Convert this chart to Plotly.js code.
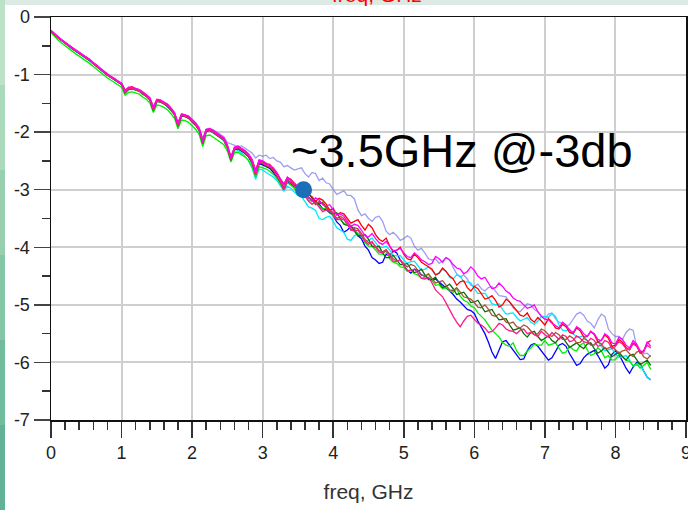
<!DOCTYPE html>
<html>
<head>
<meta charset="utf-8">
<script src="https://cdn.plot.ly/plotly-3.0.1.min.js"></script>
<style>html,body{margin:0;padding:0;background:#fff;}#chart{width:688px;height:510px;}</style>
</head>
<body>
<div id="chart"></div>
<script>
// frequency axis, GHz
const freq = [
0,0.05,0.1,0.15,0.2,0.25,0.3,0.35,0.4,0.45,
0.5,0.55,0.6,0.65,0.7,0.75,0.8,0.85,0.9,0.95,
1,1.05,1.1,1.15,1.2,1.25,1.3,1.35,1.4,1.45,
1.5,1.55,1.6,1.65,1.7,1.75,1.8,1.85,1.9,1.95,
2,2.05,2.1,2.15,2.2,2.25,2.3,2.35,2.4,2.45,
2.5,2.55,2.6,2.65,2.7,2.75,2.8,2.85,2.9,2.95,
3,3.05,3.1,3.15,3.2,3.25,3.3,3.35,3.4,3.45,
3.5,
3.55,3.6,3.65,3.7,3.75,3.8,3.85,3.9,3.95,4,
4.05,4.1,4.15,4.2,4.25,4.3,4.35,4.4,4.45,4.5,
4.55,4.6,4.65,4.7,4.75,4.8,4.85,4.9,4.95,5,
5.05,5.1,5.15,5.2,5.25,5.3,5.35,5.4,5.45,5.5,
5.55,5.6,5.65,5.7,5.75,5.8,5.85,5.9,5.95,6,
6.05,6.1,6.15,6.2,6.25,6.3,6.35,6.4,6.45,6.5,
6.55,6.6,6.65,6.7,6.75,6.8,6.85,6.9,6.95,7,
7.05,7.1,7.15,7.2,7.25,7.3,7.35,7.4,7.45,7.5,
7.55,7.6,7.65,7.7,7.75,7.8,7.85,7.9,7.95,8,
8.05,8.1,8.15,8.2,8.25,8.3,8.35,8.4,8.45,8.5];

const lossPeriwinkle = [
-0.24,-0.30,-0.35,-0.40,-0.45,-0.49,-0.54,-0.58,-0.62,-0.66,
-0.70,-0.75,-0.80,-0.85,-0.90,-0.95,-1.00,-1.04,-1.08,-1.12,
-1.16,-1.28,-1.23,-1.22,-1.24,-1.27,-1.31,-1.35,-1.41,-1.56,
-1.44,-1.45,-1.48,-1.52,-1.58,-1.66,-1.84,-1.69,-1.70,-1.73,
-1.78,-1.84,-1.92,-2.10,-1.95,-1.93,-1.96,-2.00,-2.04,-2.08,
-2.18,-2.20,-2.22,-2.25,-2.24,-2.28,-2.33,-2.36,-2.45,-2.40,
-2.42,-2.40,-2.46,-2.44,-2.50,-2.52,-2.60,-2.58,-2.62,-2.66,
-2.64,
-2.62,-2.72,-2.78,-2.70,-2.72,-2.84,-2.80,-2.88,-2.90,-3.00,
-3.08,-3.05,-3.02,-3.10,-3.10,-3.16,-3.35,-3.45,-3.42,-3.50,
-3.55,-3.48,-3.46,-3.55,-3.72,-3.78,-3.74,-3.80,-3.88,-3.85,
-3.80,-3.84,-3.98,-4.05,-4.02,-4.10,-4.20,-4.22,-4.20,-4.28,
-4.24,-4.18,-4.22,-4.35,-4.46,-4.52,-4.48,-4.55,-4.66,-4.68,
-4.64,-4.72,-4.76,-4.70,-4.68,-4.76,-4.84,-4.85,-4.86,-4.95,
-5.05,-5.10,-5.12,-5.05,-4.98,-5.00,-5.08,-5.12,-5.20,-5.25,
-5.16,-5.14,-5.24,-5.30,-5.32,-5.38,-5.34,-5.25,-5.16,-5.13,
-5.18,-5.28,-5.32,-5.40,-5.26,-5.16,-5.20,-5.42,-5.50,-5.55,
-5.55,-5.60,-5.48,-5.42,-5.44,-5.72,-5.80,-5.85,-5.84,-5.90];

const lossBlue = [
-0.25,-0.31,-0.36,-0.41,-0.45,-0.50,-0.55,-0.59,-0.63,-0.67,
-0.71,-0.76,-0.81,-0.86,-0.92,-0.96,-1.01,-1.05,-1.09,-1.13,
-1.17,-1.31,-1.25,-1.24,-1.26,-1.28,-1.33,-1.37,-1.43,-1.62,
-1.46,-1.47,-1.50,-1.55,-1.61,-1.69,-1.90,-1.72,-1.72,-1.76,
-1.82,-1.88,-1.97,-2.20,-1.99,-1.97,-2.01,-2.05,-2.09,-2.14,
-2.27,-2.50,-2.30,-2.29,-2.33,-2.37,-2.43,-2.54,-2.76,-2.55,
-2.57,-2.60,-2.63,-2.70,-2.78,-2.88,-3.02,-2.86,-2.90,-2.95,
-3.00,
-3.04,-3.05,-3.14,-3.18,-3.20,-3.25,-3.33,-3.35,-3.40,-3.45,
-3.56,-3.62,-3.74,-3.70,-3.64,-3.68,-3.80,-3.85,-3.98,-4.05,
-4.18,-4.22,-4.28,-4.26,-4.12,-4.15,-4.06,-4.10,-4.22,-4.30,
-4.40,-4.45,-4.38,-4.40,-4.48,-4.50,-4.54,-4.57,-4.55,-4.60,
-4.66,-4.70,-4.76,-4.82,-4.90,-4.95,-5.02,-5.08,-5.10,-5.15,
-5.28,-5.40,-5.50,-5.65,-5.82,-5.93,-5.80,-5.64,-5.62,-5.70,
-5.78,-5.88,-5.95,-5.94,-5.80,-5.70,-5.67,-5.72,-5.80,-5.88,
-5.96,-5.92,-5.80,-5.70,-5.67,-5.72,-5.85,-5.95,-6.05,-6.02,
-5.92,-5.86,-5.82,-5.79,-5.88,-6.00,-6.10,-6.04,-5.86,-5.80,
-5.86,-5.98,-6.10,-6.19,-6.08,-6.00,-6.02,-6.15,-6.26,-6.30];

const lossCyan = [
-0.25,-0.31,-0.36,-0.41,-0.46,-0.50,-0.55,-0.59,-0.63,-0.67,
-0.71,-0.76,-0.81,-0.86,-0.92,-0.96,-1.01,-1.05,-1.09,-1.13,
-1.17,-1.31,-1.25,-1.24,-1.26,-1.28,-1.33,-1.37,-1.43,-1.61,
-1.46,-1.47,-1.50,-1.54,-1.61,-1.69,-1.89,-1.71,-1.72,-1.75,
-1.81,-1.87,-1.96,-2.19,-1.98,-1.97,-2.01,-2.05,-2.09,-2.15,
-2.27,-2.45,-2.33,-2.32,-2.36,-2.42,-2.50,-2.62,-2.82,-2.64,
-2.66,-2.70,-2.74,-2.78,-2.84,-2.92,-3.02,-2.94,-2.98,-3.04,
-3.10,
-3.12,-3.22,-3.30,-3.32,-3.36,-3.50,-3.52,-3.48,-3.46,-3.55,
-3.66,-3.70,-3.74,-3.86,-3.88,-3.80,-3.76,-3.82,-3.90,-3.88,
-3.84,-3.92,-4.00,-4.00,-3.98,-4.05,-4.14,-4.15,-4.14,-4.22,
-4.28,-4.25,-4.24,-4.32,-4.40,-4.38,-4.34,-4.40,-4.48,-4.45,
-4.38,-4.42,-4.52,-4.55,-4.48,-4.50,-4.60,-4.60,-4.62,-4.72,
-4.80,-4.80,-4.80,-4.88,-4.98,-5.00,-4.98,-5.08,-5.16,-5.15,
-5.14,-5.22,-5.28,-5.25,-5.22,-5.30,-5.34,-5.28,-5.20,-5.20,
-5.22,-5.15,-5.20,-5.35,-5.44,-5.45,-5.42,-5.50,-5.56,-5.55,
-5.54,-5.62,-5.70,-5.68,-5.64,-5.72,-5.80,-5.78,-5.76,-5.85,
-5.92,-5.90,-5.88,-5.96,-6.06,-6.05,-6.04,-6.15,-6.26,-6.30];

const lossLime = [
-0.27,-0.34,-0.40,-0.45,-0.50,-0.55,-0.60,-0.64,-0.68,-0.72,
-0.76,-0.81,-0.86,-0.91,-0.97,-1.01,-1.06,-1.10,-1.14,-1.18,
-1.22,-1.36,-1.31,-1.30,-1.32,-1.34,-1.39,-1.43,-1.49,-1.66,
-1.53,-1.54,-1.57,-1.61,-1.68,-1.76,-1.94,-1.79,-1.80,-1.83,
-1.89,-1.95,-2.04,-2.25,-2.06,-2.05,-2.09,-2.13,-2.17,-2.22,
-2.33,-2.52,-2.36,-2.35,-2.39,-2.43,-2.49,-2.60,-2.78,-2.60,
-2.62,-2.64,-2.68,-2.73,-2.80,-2.90,-3.00,-2.88,-2.92,-2.98,
-3.06,
-3.02,-3.10,-3.18,-3.20,-3.22,-3.28,-3.34,-3.32,-3.40,-3.45,
-3.52,-3.52,-3.58,-3.62,-3.66,-3.70,-3.76,-3.80,-3.92,-3.98,
-3.98,-4.05,-4.12,-4.12,-4.06,-4.20,-4.26,-4.28,-4.34,-4.35,
-4.42,-4.40,-4.46,-4.48,-4.54,-4.52,-4.46,-4.58,-4.66,-4.65,
-4.72,-4.70,-4.76,-4.78,-4.72,-4.85,-4.92,-4.95,-5.02,-5.05,
-5.14,-5.20,-5.26,-5.35,-5.44,-5.50,-5.56,-5.65,-5.70,-5.72,
-5.66,-5.80,-5.88,-5.88,-5.80,-5.75,-5.68,-5.70,-5.70,-5.62,
-5.70,-5.68,-5.66,-5.75,-5.84,-5.82,-5.72,-5.78,-5.80,-5.70,
-5.66,-5.78,-5.88,-5.85,-5.74,-5.80,-5.92,-5.88,-5.96,-5.95,
-5.86,-5.90,-5.96,-5.98,-6.06,-6.02,-6.10,-6.05,-6.00,-6.12];

const lossDarkGreen = [
-0.25,-0.31,-0.36,-0.41,-0.46,-0.50,-0.55,-0.59,-0.63,-0.67,
-0.71,-0.76,-0.81,-0.86,-0.92,-0.96,-1.01,-1.05,-1.09,-1.13,
-1.17,-1.32,-1.26,-1.25,-1.27,-1.29,-1.34,-1.38,-1.44,-1.62,
-1.47,-1.48,-1.51,-1.55,-1.62,-1.70,-1.90,-1.72,-1.73,-1.76,
-1.82,-1.88,-1.97,-2.20,-1.99,-1.97,-2.01,-2.05,-2.09,-2.14,
-2.27,-2.49,-2.30,-2.28,-2.32,-2.36,-2.42,-2.53,-2.74,-2.53,
-2.55,-2.59,-2.61,-2.67,-2.76,-2.86,-2.99,-2.83,-2.87,-2.93,
-2.99,
-3.00,-3.08,-3.06,-3.16,-3.24,-3.25,-3.22,-3.30,-3.40,-3.42,
-3.40,-3.50,-3.60,-3.62,-3.62,-3.72,-3.80,-3.80,-3.78,-3.86,
-3.98,-4.00,-3.98,-4.10,-4.18,-4.18,-4.14,-4.22,-4.30,-4.30,
-4.28,-4.38,-4.44,-4.42,-4.38,-4.48,-4.56,-4.56,-4.52,-4.62,
-4.70,-4.68,-4.64,-4.72,-4.82,-4.80,-4.78,-4.86,-4.96,-4.95,
-4.92,-5.02,-5.12,-5.10,-5.08,-5.18,-5.26,-5.25,-5.24,-5.35,
-5.44,-5.42,-5.40,-5.50,-5.56,-5.48,-5.46,-5.55,-5.62,-5.58,
-5.54,-5.62,-5.66,-5.58,-5.56,-5.65,-5.74,-5.70,-5.66,-5.72,
-5.76,-5.68,-5.66,-5.76,-5.84,-5.80,-5.74,-5.82,-5.90,-5.86,
-5.82,-5.90,-5.96,-5.88,-5.86,-5.95,-6.04,-6.00,-5.96,-6.05];

const lossSienna = [
-0.24,-0.30,-0.36,-0.40,-0.45,-0.50,-0.54,-0.59,-0.62,-0.67,
-0.70,-0.75,-0.80,-0.85,-0.91,-0.95,-1.00,-1.05,-1.08,-1.13,
-1.16,-1.29,-1.24,-1.23,-1.26,-1.27,-1.32,-1.36,-1.42,-1.59,
-1.45,-1.46,-1.50,-1.53,-1.60,-1.68,-1.87,-1.70,-1.72,-1.74,
-1.80,-1.86,-1.95,-2.17,-1.97,-1.95,-1.99,-2.03,-2.07,-2.12,
-2.25,-2.46,-2.28,-2.26,-2.31,-2.34,-2.40,-2.50,-2.71,-2.51,
-2.52,-2.56,-2.58,-2.65,-2.72,-2.82,-2.96,-2.81,-2.84,-2.91,
-2.97,
-3.04,-3.06,-3.14,-3.18,-3.26,-3.20,-3.24,-3.32,-3.34,-3.40,
-3.50,-3.46,-3.50,-3.58,-3.70,-3.66,-3.68,-3.76,-3.86,-3.92,
-3.92,-3.98,-4.06,-4.08,-4.04,-4.12,-4.20,-4.24,-4.22,-4.28,
-4.34,-4.30,-4.32,-4.40,-4.48,-4.50,-4.46,-4.54,-4.62,-4.60,
-4.58,-4.66,-4.74,-4.75,-4.70,-4.78,-4.86,-4.88,-4.90,-4.96,
-5.04,-5.05,-5.00,-5.08,-5.18,-5.20,-5.16,-5.22,-5.30,-5.32,
-5.30,-5.38,-5.40,-5.35,-5.38,-5.45,-5.52,-5.50,-5.42,-5.45,
-5.52,-5.55,-5.48,-5.52,-5.60,-5.60,-5.54,-5.58,-5.66,-5.65,
-5.58,-5.62,-5.70,-5.70,-5.64,-5.68,-5.76,-5.75,-5.72,-5.78,
-5.84,-5.80,-5.78,-5.85,-5.90,-5.82,-5.80,-5.90,-5.94,-5.88];

const lossRed = [
-0.24,-0.30,-0.35,-0.40,-0.44,-0.49,-0.53,-0.58,-0.62,-0.66,
-0.70,-0.74,-0.80,-0.84,-0.90,-0.95,-0.99,-1.04,-1.07,-1.12,
-1.15,-1.27,-1.23,-1.21,-1.25,-1.26,-1.31,-1.35,-1.41,-1.56,
-1.44,-1.45,-1.49,-1.52,-1.59,-1.67,-1.84,-1.69,-1.71,-1.73,
-1.79,-1.85,-1.94,-2.14,-1.96,-1.95,-1.98,-2.02,-2.06,-2.11,
-2.23,-2.43,-2.27,-2.24,-2.29,-2.33,-2.39,-2.48,-2.66,-2.49,
-2.51,-2.55,-2.56,-2.63,-2.71,-2.81,-2.90,-2.79,-2.82,-2.89,
-2.97,
-3.06,-3.00,-3.08,-3.12,-3.20,-3.15,-3.18,-3.25,-3.36,-3.32,
-3.44,-3.40,-3.42,-3.50,-3.58,-3.55,-3.52,-3.62,-3.70,-3.60,
-3.66,-3.78,-3.86,-3.90,-3.84,-3.98,-4.08,-4.05,-4.00,-4.12,
-4.20,-4.22,-4.12,-4.18,-4.26,-4.30,-4.34,-4.38,-4.48,-4.45,
-4.36,-4.42,-4.50,-4.55,-4.66,-4.60,-4.58,-4.70,-4.76,-4.68,
-4.72,-4.80,-4.90,-4.88,-4.84,-4.92,-5.04,-5.00,-4.90,-4.95,
-5.02,-5.10,-5.18,-5.20,-5.14,-5.25,-5.30,-5.22,-5.28,-5.35,
-5.24,-5.30,-5.40,-5.42,-5.34,-5.38,-5.48,-5.50,-5.40,-5.45,
-5.56,-5.55,-5.46,-5.52,-5.64,-5.62,-5.52,-5.58,-5.72,-5.70,
-5.60,-5.65,-5.74,-5.78,-5.66,-5.70,-5.84,-5.80,-5.66,-5.62];

const lossDeepPink = [
-0.24,-0.31,-0.36,-0.40,-0.45,-0.50,-0.54,-0.59,-0.63,-0.67,
-0.71,-0.75,-0.81,-0.85,-0.91,-0.96,-1.00,-1.05,-1.08,-1.13,
-1.17,-1.31,-1.25,-1.24,-1.26,-1.28,-1.33,-1.37,-1.43,-1.61,
-1.46,-1.47,-1.50,-1.54,-1.61,-1.69,-1.89,-1.71,-1.72,-1.75,
-1.81,-1.87,-1.96,-2.19,-1.98,-1.96,-2.00,-2.04,-2.08,-2.13,
-2.26,-2.48,-2.29,-2.27,-2.31,-2.35,-2.41,-2.52,-2.74,-2.52,
-2.54,-2.58,-2.60,-2.66,-2.75,-2.86,-3.00,-2.84,-2.88,-2.94,
-3.00,
-3.02,-3.10,-3.20,-3.25,-3.22,-3.30,-3.38,-3.35,-3.36,-3.42,
-3.52,-3.50,-3.52,-3.60,-3.70,-3.72,-3.70,-3.80,-3.90,-3.95,
-3.90,-4.00,-4.08,-4.10,-4.06,-4.15,-4.24,-4.25,-4.22,-4.32,
-4.40,-4.40,-4.38,-4.45,-4.54,-4.55,-4.52,-4.62,-4.74,-4.80,
-4.86,-4.97,-5.10,-5.20,-5.30,-5.38,-5.28,-5.20,-5.18,-5.25,
-5.32,-5.35,-5.40,-5.48,-5.46,-5.40,-5.32,-5.35,-5.42,-5.45,
-5.46,-5.50,-5.44,-5.42,-5.50,-5.48,-5.52,-5.55,-5.46,-5.52,
-5.56,-5.48,-5.54,-5.60,-5.52,-5.55,-5.64,-5.62,-5.54,-5.58,
-5.64,-5.66,-5.58,-5.62,-5.72,-5.70,-5.62,-5.65,-5.76,-5.72,
-5.64,-5.68,-5.76,-5.78,-5.68,-5.72,-5.82,-5.80,-5.70,-5.75];

const lossMagenta = [
-0.23,-0.29,-0.34,-0.39,-0.44,-0.48,-0.53,-0.57,-0.61,-0.65,
-0.69,-0.74,-0.79,-0.84,-0.90,-0.94,-0.99,-1.03,-1.07,-1.11,
-1.15,-1.28,-1.22,-1.22,-1.24,-1.26,-1.30,-1.35,-1.40,-1.57,
-1.43,-1.44,-1.48,-1.51,-1.58,-1.66,-1.85,-1.68,-1.70,-1.72,
-1.78,-1.84,-1.93,-2.15,-1.95,-1.94,-1.97,-2.01,-2.05,-2.10,
-2.22,-2.44,-2.26,-2.25,-2.28,-2.32,-2.38,-2.47,-2.68,-2.48,
-2.50,-2.54,-2.57,-2.62,-2.70,-2.80,-2.92,-2.78,-2.83,-2.88,
-2.94,
-2.96,-3.02,-3.12,-3.20,-3.14,-3.18,-3.26,-3.28,-3.26,-3.35,
-3.44,-3.42,-3.46,-3.55,-3.64,-3.60,-3.62,-3.70,-3.80,-3.82,
-3.76,-3.85,-3.92,-3.95,-3.90,-3.98,-4.06,-4.05,-4.02,-4.10,
-4.16,-4.18,-4.10,-4.15,-4.22,-4.25,-4.30,-4.28,-4.16,-4.20,
-4.26,-4.18,-4.22,-4.30,-4.36,-4.38,-4.46,-4.42,-4.34,-4.40,
-4.50,-4.55,-4.52,-4.62,-4.72,-4.70,-4.62,-4.68,-4.76,-4.80,
-4.88,-4.92,-4.94,-5.00,-5.06,-5.04,-5.00,-5.12,-5.20,-5.25,
-5.26,-5.32,-5.36,-5.40,-5.30,-5.35,-5.44,-5.48,-5.38,-5.42,
-5.50,-5.55,-5.46,-5.50,-5.60,-5.62,-5.50,-5.55,-5.66,-5.68,
-5.56,-5.60,-5.70,-5.75,-5.62,-5.68,-5.80,-5.82,-5.64,-5.72];

// marked -3 dB point
const markFreq = [3.58];
const markLoss = [-3.0];

const xTickVals = [0,1,2,3,4,5,6,7,8,9];
const yTickVals = [0,-1,-2,-3,-4,-5,-6,-7];
const noteText = "~3.5GHz @-3db";
const xTitleText = "freq, GHz";

const seriesList = [
  {y: lossPeriwinkle, color: 'rgba(105,105,235,0.65)'},
  {y: lossBlue, color: '#0000ff'},
  {y: lossCyan, color: '#00e8ff'},
  {y: lossLime, color: '#00ee00'},
  {y: lossDarkGreen, color: '#0b6b0b'},
  {y: lossSienna, color: '#a5553a'},
  {y: lossRed, color: '#ff0000'},
  {y: lossDeepPink, color: '#ff1a8c'},
  {y: lossMagenta, color: '#ff00ff'}
];

const traces = seriesList.map(s => ({
  x: freq, y: s.y, type: 'scatter', mode: 'lines',
  line: {color: s.color, width: 1.3}, hoverinfo: 'skip'
}));
traces.push({
  x: markFreq, y: markLoss, type: 'scatter', mode: 'markers',
  marker: {color: '#1a6fb6', size: 17, line: {width: 0}}, hoverinfo: 'skip'
});

const W = 688, H = 510, ML = 51, MR = 2, MT = 17, MB = 90;
const PW = W - ML - MR, PH = H - MT - MB;
const px = v => (v - ML) / PW;
const py = v => (H - MB - v) / PH;

const stripColors = ['#bce2c8','#aad9bc','#97cfb0','#84c6a6','#72bc9e','#62b297'];
const shapes = [];
stripColors.forEach((c, i) => {
  const y0 = i * H / stripColors.length, y1 = (i + 1) * H / stripColors.length;
  shapes.push({type: 'rect', xref: 'paper', yref: 'paper', layer: 'below',
    x0: px(0), x1: px(5), y0: py(y1), y1: py(y0), fillcolor: c, line: {width: 0}});
});
shapes.push({type: 'rect', xref: 'paper', yref: 'paper', layer: 'below',
  x0: px(5), x1: px(W), y0: py(5), y1: py(0), fillcolor: '#dde9e3', line: {width: 0}});

const fontFam = '"Liberation Sans", Arial, sans-serif';

const layout = {
  width: W, height: H,
  margin: {l: ML, r: MR, t: MT, b: MB, pad: 0},
  paper_bgcolor: '#ffffff', plot_bgcolor: '#ffffff',
  showlegend: false,
  font: {family: fontFam, color: '#222', size: 15},
  xaxis: {
    range: [0, 9], tickvals: xTickVals, ticktext: xTickVals.map(String),
    ticks: 'outside', ticklen: 16, tickwidth: 1.5, tickcolor: '#333',
    showline: true, linecolor: '#111', linewidth: 1.5, mirror: true,
    showgrid: true, gridcolor: '#cfcfcf', gridwidth: 2, zeroline: false,
    ticklabeloverflow: 'allow',
    tickfont: {family: fontFam, size: 18, color: '#222'},
    minor: {dtick: 0.2, tick0: 0, ticks: 'outside', ticklen: 8, tickwidth: 1.5, tickcolor: '#333', showgrid: false},
    title: {text: xTitleText, font: {family: fontFam, size: 21, color: '#333'}, standoff: 22},
    fixedrange: true
  },
  yaxis: {
    range: [-7, 0], tickvals: yTickVals, ticktext: yTickVals.map(String),
    ticks: 'outside', ticklen: 16, tickwidth: 1.5, tickcolor: '#444',
    showline: true, linecolor: '#111', linewidth: 1.5, mirror: true,
    showgrid: true, gridcolor: '#cfcfcf', gridwidth: 2, zeroline: false,
    ticklabeloverflow: 'allow',
    tickfont: {family: fontFam, size: 18, color: '#222'},
    minor: {dtick: 0.5, tick0: 0, ticks: 'outside', ticklen: 8, tickwidth: 1.5, tickcolor: '#333', showgrid: false},
    fixedrange: true
  },
  shapes: shapes,
  annotations: [
    {text: noteText, xref: 'paper', yref: 'paper', x: px(462), y: py(150),
     xanchor: 'center', yanchor: 'middle', showarrow: false,
     font: {family: fontFam, size: 47, color: '#000'}},
    {text: xTitleText, xref: 'paper', yref: 'paper', x: px(377), y: py(8),
     xanchor: 'center', yanchor: 'bottom', showarrow: false,
     font: {family: fontFam, size: 21, color: '#ff0000'}}
  ]
};

Plotly.newPlot('chart', traces, layout, {displayModeBar: false, staticPlot: true});
</script>
</body>
</html>
